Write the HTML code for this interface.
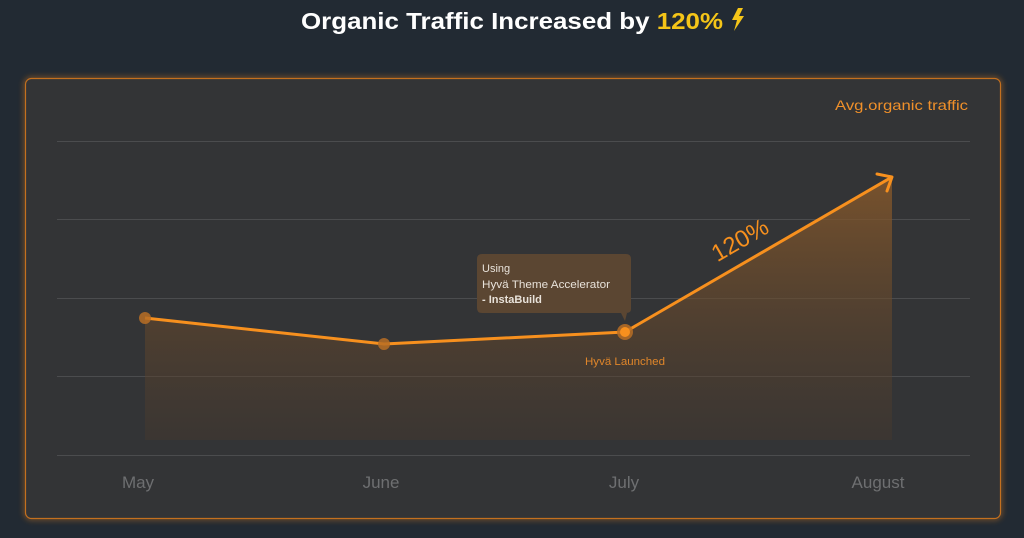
<!DOCTYPE html>
<html><head><meta charset="utf-8"><style>
html,body{margin:0;padding:0;width:1024px;height:538px;background:#222a33;overflow:hidden;font-family:"Liberation Sans",sans-serif}
</style></head><body>
<svg width="1024" height="538" viewBox="0 0 1024 538" xmlns="http://www.w3.org/2000/svg" style="position:absolute;left:0;top:0">
<defs>
<linearGradient id="g" x1="0" y1="0" x2="0" y2="1">
<stop offset="0" stop-color="#8a5a2a" stop-opacity="0.8"/>
<stop offset="1" stop-color="#4a3a2c" stop-opacity="0.35"/>
</linearGradient>
<filter id="glow" x="-5%" y="-5%" width="110%" height="110%"><feGaussianBlur stdDeviation="3"/></filter>
</defs>
<text x="301" y="29" font-size="23" font-weight="bold" fill="#ffffff" textLength="422" lengthAdjust="spacingAndGlyphs">Organic Traffic Increased by <tspan fill="#f5c518">120%</tspan></text>
<path d="M738 8 L732 20 L737 20 L734 31 L744 16 L739 16 L743 8 Z" fill="#f5c518"/>
<rect x="25.5" y="78.5" width="975" height="440" rx="6" fill="none" stroke="#e07f1f" stroke-width="3" opacity="0.6" filter="url(#glow)"/>
<rect x="25.5" y="78.5" width="975" height="440" rx="6" fill="#333436" stroke="#c4701f" stroke-width="1.2"/>
<g stroke="#4b4c4e" stroke-width="1">
<line x1="57" y1="141.5" x2="970" y2="141.5"/>
<line x1="57" y1="219.5" x2="970" y2="219.5"/>
<line x1="57" y1="298.5" x2="970" y2="298.5"/>
<line x1="57" y1="376.5" x2="970" y2="376.5"/>
<line x1="57" y1="455.5" x2="970" y2="455.5"/>
</g>
<path d="M145 318 L384 344 L625 332 L892 177 L892 440 L145 440 Z" fill="url(#g)"/>
<polyline points="145,318 384,344 625,332 892,177" fill="none" stroke="#f7901e" stroke-width="3" stroke-linejoin="round"/>
<polyline points="877,174 892,177 887,191" fill="none" stroke="#f7901e" stroke-width="3" stroke-linecap="round" stroke-linejoin="round"/>
<circle cx="145" cy="318" r="6" fill="#b86f24" opacity="0.85"/>
<circle cx="384" cy="344" r="6" fill="#b86f24" opacity="0.85"/>
<circle cx="625" cy="332" r="8" fill="#b86f24" opacity="0.85"/>
<circle cx="625" cy="332" r="5" fill="#f7901e"/>
<text x="744" y="247" text-anchor="middle" font-size="24" fill="#f7901e" transform="rotate(-30 744 247)">120%</text>
<path d="M482 254 H626 Q631 254 631 259 V309 Q631 313 626 313 H627 L625 321 L621 313 H482 Q477 313 477 308 V259 Q477 254 482 254 Z" fill="#5b4632"/>
<text x="482" y="272" font-size="11" fill="#e8e2da">Using</text>
<text x="482" y="288" font-size="11" fill="#e8e2da" textLength="128" lengthAdjust="spacingAndGlyphs">Hyvä Theme Accelerator</text>
<text x="482" y="303" font-size="11" font-weight="bold" fill="#e8e2da">- InstaBuild</text>
<text x="625" y="365" text-anchor="middle" font-size="11" fill="#e0862a" textLength="80" lengthAdjust="spacingAndGlyphs">Hyvä Launched</text>
<text x="835" y="110" font-size="14" fill="#f0902a" textLength="133" lengthAdjust="spacingAndGlyphs">Avg.organic traffic</text>
<g font-size="17" fill="#6e6f71" text-anchor="middle">
<text x="138" y="488">May</text>
<text x="381" y="488">June</text>
<text x="624" y="488">July</text>
<text x="878" y="488">August</text>
</g>
</svg>
</body></html>
